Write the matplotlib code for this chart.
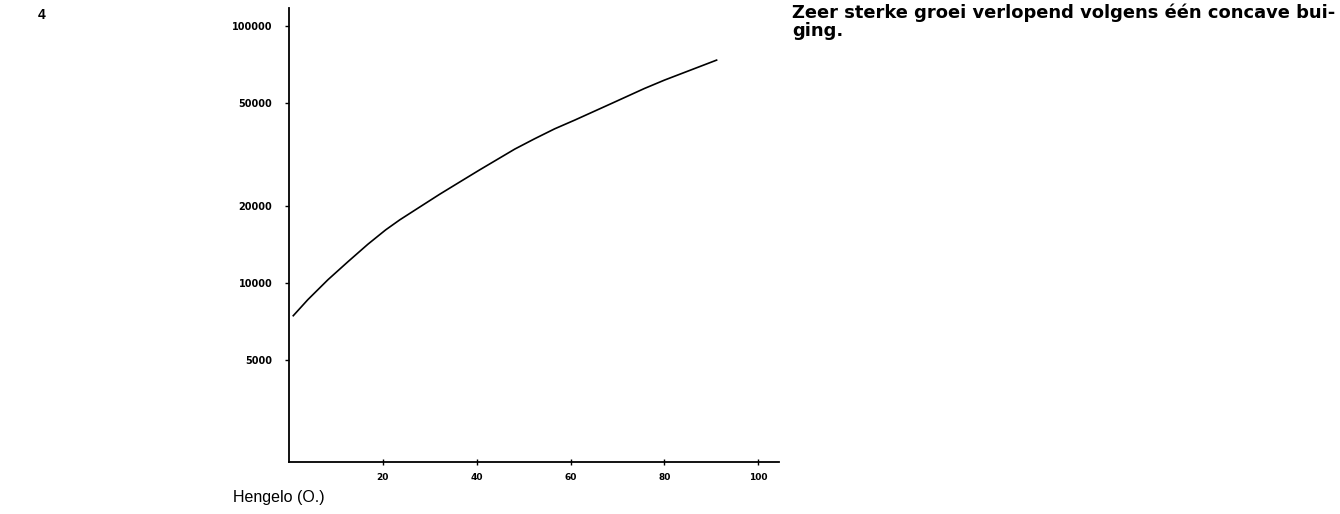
from matplotlib import pyplot as plt
from matplotlib.ticker import FixedLocator, NullLocator

# values
x_vals = [0.9, 4, 8.3, 12.6, 16.8, 20.6, 23.6, 27.9, 32.1, 36.4, 40.6, 48.1, 52.3,
          56.6, 60.9, 68.9, 75.7, 80, 91.1]
y_vals = [7440, 8590, 10280, 12100, 14130, 16080, 17590, 19760, 22130, 24720, 27530, 33190, 36390,
          39810, 43070, 50160, 57150, 61650, 73750]

x_ticks = [20, 40, 60, 80, 100]
y_ticks = [5000, 10000, 20000, 50000, 100000]

place = "Hengelo (O.)"
note_line1 = "Zeer sterke groei verlopend volgens één concave bui-"
note_line2 = "ging."

plt.rcParams['font.family'] = ['DejaVu Sans']

fig = plt.figure(figsize=(13.4, 5.14), dpi=100)
ax = fig.add_axes([0.2157, 0.101, 0.366, 0.883])

ax.plot(x_vals, y_vals, color="black", linewidth=1.2, solid_joinstyle="round")

ax.set_yscale("log")
ax.set_xlim(0, 104.5)
ax.set_ylim(2000, 117500)

ax.yaxis.set_major_locator(FixedLocator(y_ticks))
ax.yaxis.set_minor_locator(NullLocator())
ax.set_yticklabels([str(v) for v in y_ticks])
ax.xaxis.set_major_locator(FixedLocator(x_ticks))
ax.set_xticklabels([str(v) for v in x_ticks])

ax.spines["top"].set_visible(False)
ax.spines["right"].set_visible(False)
ax.spines["left"].set_linewidth(1.3)
ax.spines["bottom"].set_linewidth(1.3)

ax.tick_params(axis="y", direction="out", length=3, width=1, labelsize=7, pad=9)
ax.tick_params(axis="x", direction="inout", length=4, width=1, labelsize=6.5, pad=6)
for lab in ax.get_xticklabels() + ax.get_yticklabels():
    lab.set_fontweight("bold")

fig.text(0.174, 0.033, place, fontsize=11.5, family="Liberation Sans", ha="left", va="center")
fig.text(0.028, 0.971, "4", fontsize=10, family="Liberation Sans", fontweight="bold",
         ha="left", va="center")
fig.text(0.591, 0.975, note_line1, fontsize=12.9, fontweight="bold", ha="left", va="center")
fig.text(0.591, 0.94, note_line2, fontsize=12.9, fontweight="bold", ha="left", va="center")

fig.savefig("out.png", dpi=100)
